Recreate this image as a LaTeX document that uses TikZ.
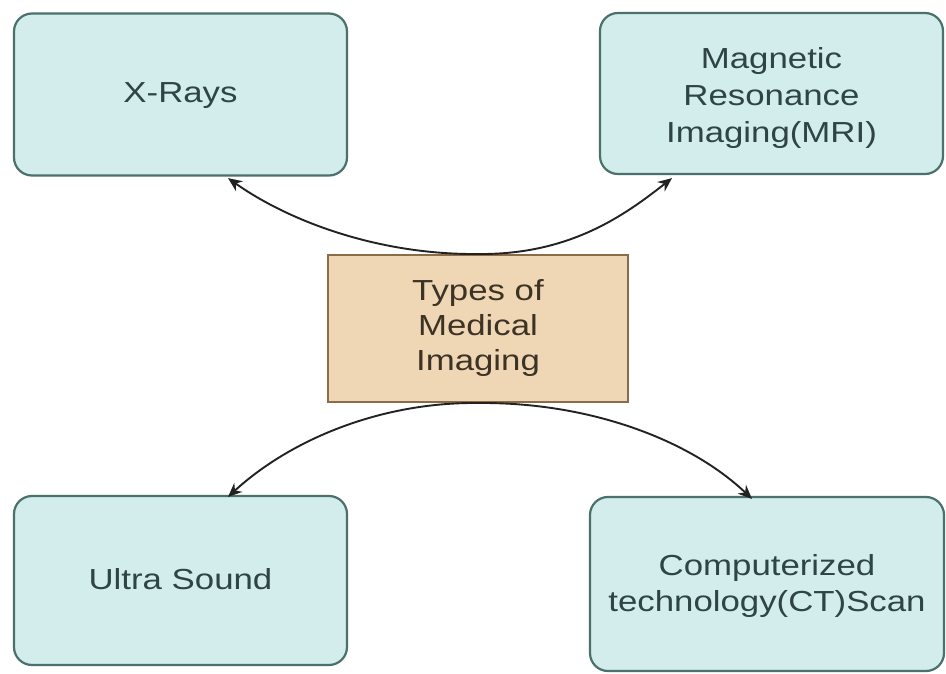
\documentclass[tikz,border=0pt]{standalone}
\usepackage{fontspec}
\setmainfont{Liberation Sans}[FakeStretch=1.2]
\usetikzlibrary{arrows.meta,calc}
\definecolor{tealfill}{HTML}{D3ECEC}
\definecolor{tealline}{HTML}{4A716C}
\definecolor{tealtext}{HTML}{2F4444}
\definecolor{tanfill}{HTML}{EFD6B4}
\definecolor{tanline}{HTML}{8B6B4A}
\definecolor{tantext}{HTML}{3D3325}
\definecolor{arrowc}{HTML}{222222}
\begin{document}
\begin{tikzpicture}[x=1pt,y=-1pt,
  leaf/.style={draw=tealline, line width=2.2pt, fill=tealfill,
    rounded corners=18pt, align=center, text=tealtext, inner sep=0pt,
    font=\fontsize{29}{37}\selectfont},
  hub/.style={draw=tanline, line width=2pt, fill=tanfill,
    align=center, text=tantext, inner sep=0pt,
    font=\fontsize{29}{35}\selectfont},
  link/.style={draw=arrowc, line width=1.9pt,
    -{Stealth[length=14pt,width=12pt]}}]
\useasboundingbox (0,0) rectangle (946,674);
\fill[white] (0,0) rectangle (946,674);

% outer boxes
\node[leaf, minimum width=333pt, minimum height=162pt] (xray) at (180.5,94.5) {};
\node[text=tealtext, font=\fontsize{29}{37}\selectfont] (xrayt) at (180.5,96) {X-Rays};
\node[leaf, minimum width=343pt, minimum height=161pt] (mri) at (771.5,93.5) {};
\node[text=tealtext, font=\fontsize{29}{37}\selectfont, align=center] (mrit) at (771.5,98)
  {Magnetic\\Resonance\\Imaging(MRI)};
\node[leaf, minimum width=333pt, minimum height=169pt] (us) at (180.5,580.5) {};
\node[text=tealtext, font=\fontsize{29}{37}\selectfont] (ust) at (180.5,579) {Ultra Sound};
\node[leaf, minimum width=354pt, minimum height=174pt] (ct) at (767,584) {};
\node[text=tealtext, font=\fontsize{29}{36}\selectfont, align=center] (ctt) at (767,586)
  {Computerized\\technology(CT)Scan};

% central box
\node[hub, minimum width=300pt, minimum height=147pt] (hub) at (478,328.5)
  {Types of\\Medical\\Imaging};

% curved connectors
\draw[link] (hub.north) .. controls (380,255) and (290,222) .. ($(xray.south)+(47.5,1.5)$);
\draw[link] (hub.north) .. controls (570,255) and (625,215) .. ($(mri.south)+(-99.5,3)$);
\draw[link] (hub.south) .. controls (380,402) and (290,440) .. ($(us.north)+(47.5,2)$);
\draw[link] (hub.south) .. controls (590,402) and (690,440) .. ($(ct.north)+(-15,3)$);
\end{tikzpicture}
\end{document}
